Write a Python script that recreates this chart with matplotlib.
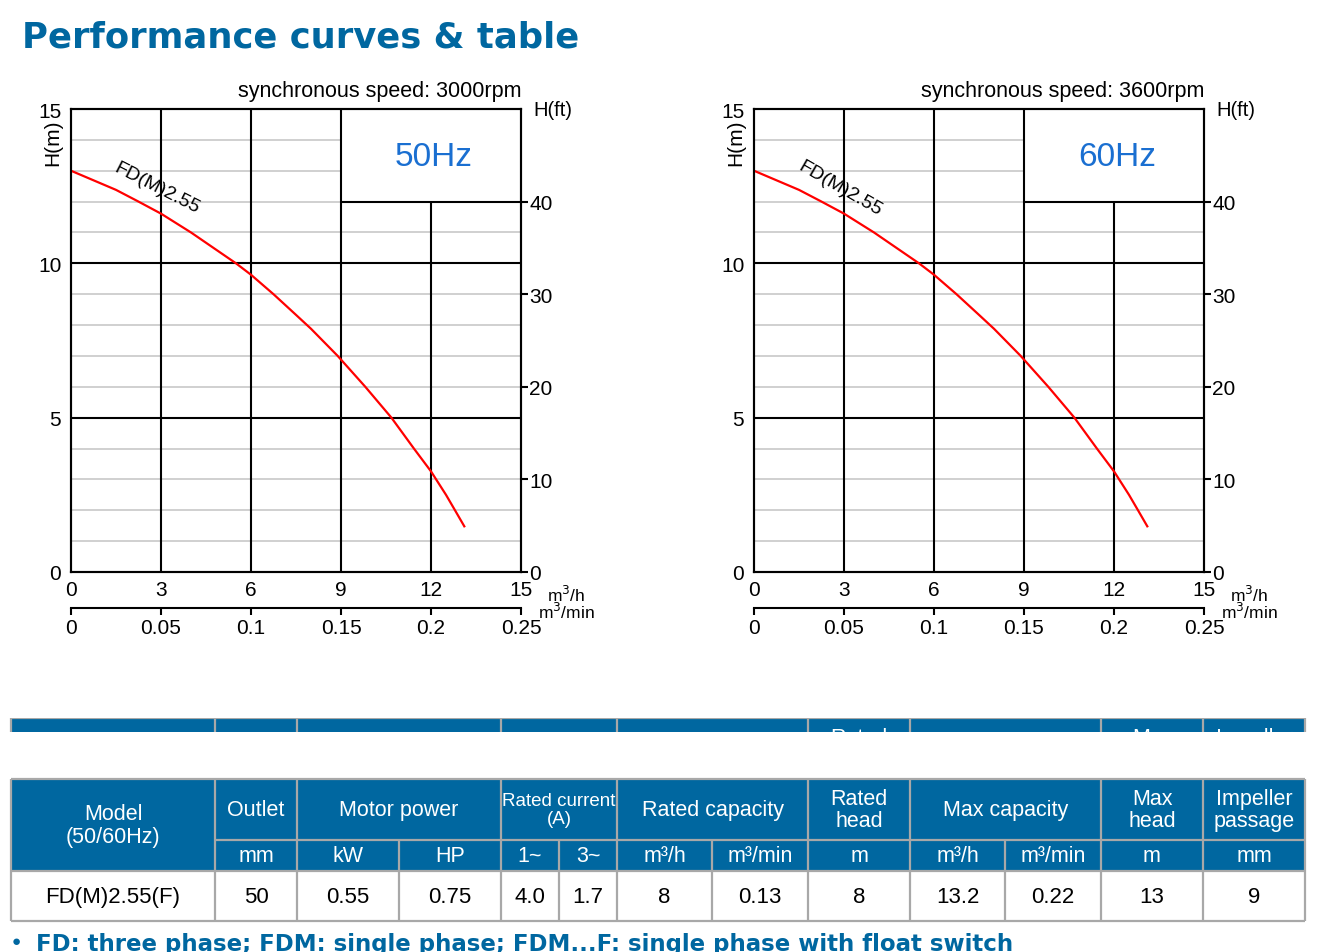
import matplotlib
matplotlib.use("Agg")
import matplotlib.pyplot as plt
from matplotlib.patches import Rectangle

plt.rcParams['font.family'] = ['Liberation Sans', 'DejaVu Sans']

# curve (same curve on both charts)
flow_q = [0, 1.5, 2.25, 3, 4.0, 5.5, 6, 6.75, 7.5, 8.0, 8.89, 9.81, 10.68, 11.43, 12.0,
          12.5, 12.8, 13.11]
head_h = [13.0, 12.38, 12.0, 11.61, 11.0, 10.0, 9.63, 9.0, 8.33, 7.88, 7.0, 6.0, 5.0, 4.0, 3.26,
          2.5, 2.0, 1.48]
curve_name = "FD(M)2.55"

q_ticks = [0, 3, 6, 9, 12, 15]
h_ticks = [0, 5, 10, 15]
ft_ticks = [0, 10, 20, 30, 40]
qmin_ticks = [0, 0.05, 0.1, 0.15, 0.2, 0.25]
qmin_labels = ['0', '0.05', '0.1', '0.15', '0.2', '0.25']

charts = [("50Hz", "synchronous speed: 3000rpm"),
          ("60Hz", "synchronous speed: 3600rpm")]

# table
header_groups = ["Model\n(50/60Hz)", "Outlet", "Motor power", "Rated current\n(A)",
                 "Rated capacity", "Rated\nhead", "Max capacity", "Max\nhead",
                 "Impeller\npassage"]
group_spans = [1, 1, 2, 2, 2, 1, 2, 1, 1]
units = ["", "mm", "kW", "HP", "1~", "3~", "m³/h", "m³/min", "m",
         "m³/h", "m³/min", "m", "mm"]
row_data = ["FD(M)2.55(F)", "50", "0.55", "0.75", "4.0", "1.7", "8", "0.13",
            "8", "13.2", "0.22", "13", "9"]
col_edges = [11, 215, 297, 399, 501, 559, 617, 712, 808, 910, 1005, 1101, 1203, 1305]

BLUE = '#0067a0'
HZ_BLUE = '#1a6fd1'
GRID_GREY = '#c8c8c8'
CELL_GREY = '#a8a8a8'

W, H = 1324, 953
fig = plt.figure(figsize=(W / 100, H / 100), dpi=100)


def px_box(x0, y0, x1, y1):
    return [x0 / W, 1 - y1 / H, (x1 - x0) / W, (y1 - y0) / H]


def draw_chart(left, hz, speed, rot):
    ax = fig.add_axes(px_box(left, 110, left + 450, 573))
    ax.set_xlim(0, 15)
    ax.set_ylim(0, 15)

    # light grid every metre, box corner (9..15, 12..15) left empty
    for h in range(1, 15):
        if h in h_ticks:
            continue
        right = 9 if h >= 12 else 15
        ax.hlines(h, 0, right, color=GRID_GREY, lw=1.2, zorder=1)
    ax.hlines(12, 9, 15, color='black', lw=1.5, zorder=2)
    for h in [5, 10]:
        ax.hlines(h, 0, 15, color='black', lw=1.5, zorder=2)
    for q in [3, 6, 9, 12]:
        ax.vlines(q, 0, 12 if q > 9 else 15, color='black', lw=1.5, zorder=2)

    ax.plot(flow_q, head_h, color='red', lw=1.6, zorder=5, solid_joinstyle='round')
    ax.text(2.86, 12.45, curve_name, rotation=rot, rotation_mode='anchor',
            ha='center', va='center', fontsize=14, zorder=6)
    ax.text(12.1, 13.45, hz, color=HZ_BLUE, fontsize=24, ha='center', va='center')

    for s in ax.spines.values():
        s.set_linewidth(1.5)
    ax.set_xticks(q_ticks)
    ax.set_yticks(h_ticks)
    ax.tick_params(axis='y', length=0, labelsize=15, pad=7)
    ax.tick_params(axis='x', length=0, labelsize=15, pad=6)

    axr = ax.twinx()
    axr.set_ylim(0, 50)
    axr.set_yticks(ft_ticks)
    axr.tick_params(axis='y', direction='out', length=5, width=1.5, labelsize=15, pad=1)
    for s in axr.spines.values():
        s.set_linewidth(1.5)

    sec = ax.secondary_xaxis(-36 / 463, functions=(lambda q: q / 60, lambda v: v * 60))
    sec.set_xticks(qmin_ticks)
    sec.set_xticklabels(qmin_labels)
    sec.tick_params(direction='out', length=5, width=1.5, labelsize=15, pad=2)
    sec.spines['bottom'].set_linewidth(1.5)

    ax.text(1.0, 1.04, speed, transform=ax.transAxes, ha='right', va='center', fontsize=15.5)
    ax.text(-0.04, 0.93, "H(m)", transform=ax.transAxes, rotation=90,
            ha='center', va='center', fontsize=15)
    ax.text(1.07, 1.0, "H(ft)", transform=ax.transAxes, ha='center', va='center', fontsize=14.5)
    ax.text(1.1, -0.048, "m$^3$/h", transform=ax.transAxes, ha='center', va='center', fontsize=12.5)
    ax.text(1.1, -0.085, "m$^3$/min", transform=ax.transAxes, ha='center', va='center', fontsize=12.5)


draw_chart(71, charts[0][0], charts[0][1], -27)
draw_chart(754, charts[1][0], charts[1][1], -30)


def draw_header(ax, top, clip=False):
    r1, r2 = top + 61, top + 92
    ax.add_patch(Rectangle((col_edges[0], top), col_edges[-1] - col_edges[0], r2 - top,
                           facecolor=BLUE, edgecolor='none', zorder=1))
    ax.hlines(top, col_edges[0], col_edges[-1], color=CELL_GREY, lw=1.6, zorder=3)
    ax.hlines(r1, col_edges[1], col_edges[-1], color=CELL_GREY, lw=1.6, zorder=3)
    ax.hlines(r2, col_edges[0], col_edges[-1], color=CELL_GREY, lw=1.6, zorder=3)
    i = 0
    for g, (label, span) in enumerate(zip(header_groups, group_spans)):
        x0, x1 = col_edges[i], col_edges[i + span]
        ax.vlines(x0, top, r2, color=CELL_GREY, lw=1.6, zorder=3)
        yc = (top + r2) / 2 if g == 0 else (top + r1) / 2
        size = 13.5 if span == 2 and '\n' in label else 15.5
        ax.text((x0 + x1) / 2, yc, label, color='white', ha='center', va='center',
                fontsize=size, linespacing=1.12, clip_on=clip, zorder=4)
        for k in range(i + 1, i + span):
            ax.vlines(col_edges[k], r1, r2, color=CELL_GREY, lw=1.6, zorder=3)
        i += span
    ax.vlines(col_edges[-1], top, r2, color=CELL_GREY, lw=1.6, zorder=3)
    for k, u in enumerate(units):
        if u:
            ax.text((col_edges[k] + col_edges[k + 1]) / 2, (r1 + r2) / 2, u, color='white',
                    ha='center', va='center', fontsize=15.5, clip_on=clip, zorder=4)
    return r2


# table
ax_t = fig.add_axes(px_box(0, 740, W, H))
ax_t.set_xlim(0, W)
ax_t.set_ylim(H, 740)
ax_t.axis('off')
bottom = draw_header(ax_t, 780)
row_bottom = 922
ax_t.hlines(row_bottom, col_edges[0], col_edges[-1], color=CELL_GREY, lw=1.6, zorder=3)
for k, val in enumerate(row_data):
    ax_t.vlines(col_edges[k], bottom, row_bottom, color=CELL_GREY, lw=1.6, zorder=3)
    ax_t.text((col_edges[k] + col_edges[k + 1]) / 2, (bottom + row_bottom) / 2 + 1, val,
              ha='center', va='center', fontsize=16)
ax_t.vlines(col_edges[-1], bottom, row_bottom, color=CELL_GREY, lw=1.6, zorder=3)

# clipped copy of the header top seen above the table
ax_g = fig.add_axes(px_box(0, 719, W, 733))
ax_g.set_xlim(0, W)
ax_g.set_ylim(733, 719)
ax_g.axis('off')
draw_header(ax_g, 719, clip=True)

fig.text(22 / W, 1 - 37 / H, "Performance curves & table", color=BLUE, fontsize=25.5,
         fontweight='heavy', family='DejaVu Sans', ha='left', va='center')
fig.text(12 / W, 1 - 942 / H, "●", color=BLUE, fontsize=11, ha='left', va='center')
fig.text(36 / W, 1 - 945 / H, "FD: three phase; FDM: single phase; FDM...F: single phase with float switch",
         color=BLUE, fontsize=16.5, fontweight='heavy', family='DejaVu Sans', ha='left', va='center')

fig.savefig("out.png", dpi=100)
